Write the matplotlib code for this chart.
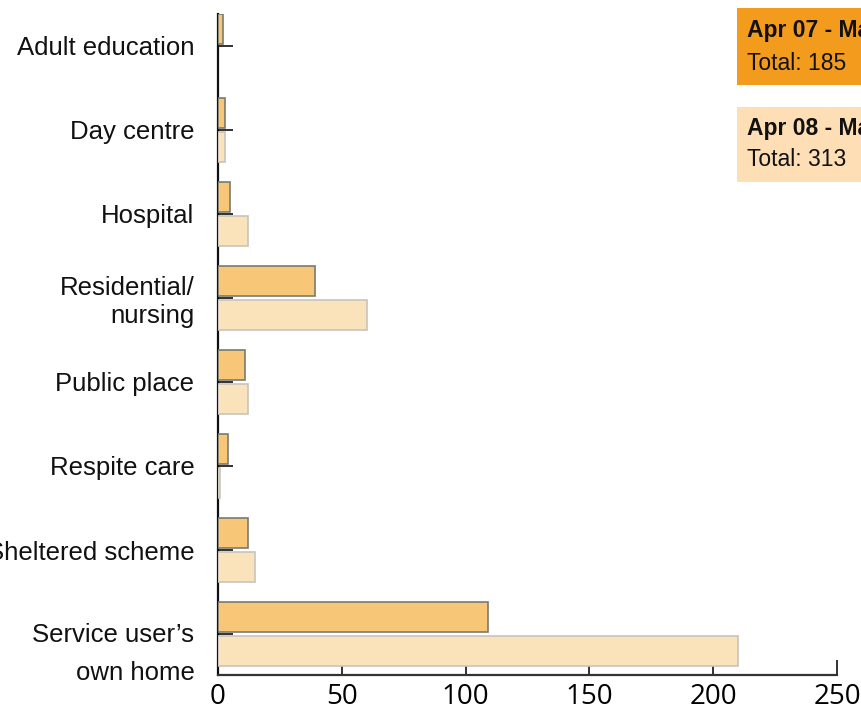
import matplotlib
matplotlib.use("Agg")
import matplotlib.pyplot as plt
import matplotlib.transforms as mtransforms
from matplotlib.patches import Rectangle
import numpy as np

categories = ["Adult education", "Day centre", "Hospital", "Residential/\nnursing",
              "Public place", "Respite care", "Sheltered scheme", "Service user\u2019s\nown home"]
apr07 = [2, 3, 5, 39, 11, 4, 12, 109]
apr08 = [0, 3, 12, 60, 12, 1, 15, 210]
series_names = ["Apr 07 - Mar 08", "Apr 08 - Mar 09"]
totals = [185, 313]
xticks = [0, 50, 100, 150, 200, 250]

c07, c08 = "#F8C677", "#FAE2BA"
e07, e08 = "#7a7a6e", "#c8c4bc"
box07, box08 = "#F29B1C", "#FDDEB5"

fig = plt.figure(figsize=(8.61, 7.11), dpi=100)
ax = fig.add_axes([218/861, 1-675/711, (837-218)/861, (675-14)/711])

y = np.arange(len(categories))
h = 30/84
off = 17/84
ax.barh(y - off, apr07, height=h, color=c07, edgecolor=e07, linewidth=1.2, zorder=3)
b08 = ax.barh(y + off, apr08, height=h, color=c08, edgecolor=e08, linewidth=1.2, zorder=3)
for p, v in zip(b08, apr08):
    if v == 0:
        p.set_linewidth(0)

ax.set_xlim(0, 250)
ax.set_ylim((675-46)/84, (14-46)/84)

for s in ["top", "right"]:
    ax.spines[s].set_visible(False)
ax.spines["left"].set_color("#111111")
ax.spines["left"].set_linewidth(1.6)
ax.spines["bottom"].set_color("#333333")
ax.spines["bottom"].set_linewidth(1.6)

ax.set_xticks(xticks)
ax.set_xticklabels([str(v) for v in xticks], fontsize=20, fontfamily="Open Sans")
ax.tick_params(axis="x", direction="in", length=11, width=1.3, color="#222222", pad=6)

ax.set_yticks(y)
ax.set_yticklabels(categories, fontsize=18.5, fontfamily="Liberation Sans", color="#111111")
ax.tick_params(axis="y", direction="in", length=11, width=1.3, color="#222222", pad=17)
for t in ax.get_yticklabels():
    t.set_horizontalalignment("right")
    t.set_multialignment("right")
last = ax.get_yticklabels()[-1]
last.set_linespacing(1.75)
last.set_transform(last.get_transform() + mtransforms.ScaledTranslation(0, -10/100, fig.dpi_scale_trans))

# legend boxes
fig.patches.append(Rectangle((737/861, 1-85/711), 200/861, 77/711, transform=fig.transFigure,
                             facecolor=box07, edgecolor="none"))
fig.patches.append(Rectangle((737/861, 1-182/711), 200/861, 75/711, transform=fig.transFigure,
                             facecolor=box08, edgecolor="none"))
fig.text(747/861, 1-31/711, series_names[0], fontsize=16.5, fontweight="bold",
         fontfamily="Liberation Sans", va="center", ha="left", color="#111111")
fig.text(747/861, 1-63/711, f"Total: {totals[0]}", fontsize=16.5,
         fontfamily="Liberation Sans", va="center", ha="left", color="#111111")
fig.text(747/861, 1-129/711, series_names[1], fontsize=16.5, fontweight="bold",
         fontfamily="Liberation Sans", va="center", ha="left", color="#111111")
fig.text(747/861, 1-160/711, f"Total: {totals[1]}", fontsize=16.5,
         fontfamily="Liberation Sans", va="center", ha="left", color="#111111")

fig.savefig("out.png", dpi=100)
